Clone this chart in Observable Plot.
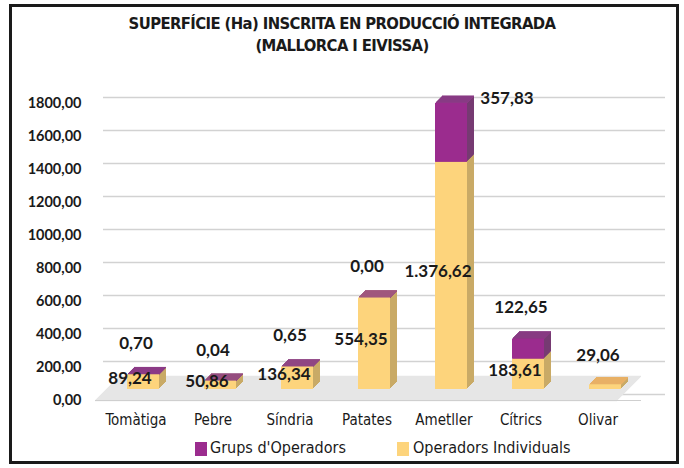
<!DOCTYPE html>
<html>
<head>
<meta charset="utf-8">
<script src="https://cdn.jsdelivr.net/npm/d3@7"></script>
<script src="https://cdn.jsdelivr.net/npm/@observablehq/plot@0.6"></script>
<style>
  html, body { margin: 0; padding: 0; background: #fff; }
  #wrap { position: relative; width: 684px; height: 468px; overflow: hidden; font-family: "Lato", "Open Sans", sans-serif; }
  #frame { position: absolute; left: 9px; top: 4px; width: 664px; height: 454px; border: 3px solid #1a1a1a; box-sizing: content-box; pointer-events: none; }
  #title { position: absolute; left: 0; top: 13px; width: 684px; text-align: center; font-family: "Liberation Sans Narrow", "DejaVu Sans Condensed", sans-serif; font-weight: bold; font-size: 16.5px; line-height: 22px; color: #1a1a1a; letter-spacing: -0.6px; }
  #chart { position: absolute; left: 0; top: 0; }
  #legend { position: absolute; left: 0; top: 438px; width: 684px; font-size: 16px; color: #1a1a1a; font-family: "Liberation Sans Narrow", "DejaVu Sans Condensed", sans-serif; }
  .sw { position: absolute; top: 4px; width: 12px; height: 14px; }
  .lt { position: absolute; top: 0; white-space: nowrap; }
</style>
</head>
<body>
<div id="wrap">
  <div id="chart"></div>
  <div id="title">SUPERFÍCIE (Ha) INSCRITA EN PRODUCCIÓ INTEGRADA<br>(MALLORCA I EIVISSA)</div>
  <div id="legend"></div>
  <div id="frame"></div>
</div>
<script>
const categories = ["Tomàtiga", "Pebre", "Síndria", "Patates", "Ametller", "Cítrics", "Olivar"];
const individuals = [89.24, 50.86, 136.34, 554.35, 1376.62, 183.61, 29.06];
const groups = [0.70, 0.04, 0.65, 0.00, 357.83, 122.65, null];
const seriesNames = ["Grups d'Operadors", "Operadors Individuals"];
const seriesColors = ["#9b2c8e", "#fdd47c"];
const sideColors = ["#763a72", "#c9aa66"];
const topColors = ["#8b3b86", "#e9b066"];
const yTicks = [0, 200, 400, 600, 800, 1000, 1200, 1400, 1600, 1800];

const rows = categories.map((c, i) => ({
  cat: c,
  ind: individuals[i],
  grp: groups[i],
  total: individuals[i] + (groups[i] ?? 0)
}));

const es = d3.formatLocale({decimal: ",", thousands: ".", grouping: [3], currency: ["", "€"]});
const fmtVal = es.format(",.2f");
const fmtTick = d => d.toFixed(2).replace(".", ",");

const yellowRects = rows.map(r => ({cat: r.cat, y1: 0, y2: r.ind, top: r.ind}));
const purpleRects = rows.filter(r => r.grp != null).map(r => ({cat: r.cat, y1: r.ind, y2: r.ind + r.grp, top: r.ind + r.grp}));

const barOpts = {insetLeft: 30, insetRight: 15};
const base = -11;   // bars stand back on the floor
const depth = 7;    // 3D extrusion depth in px
const labelFont = {fontSize: 17, fontWeight: "bold", fill: "#1a1a1a", fontFamily: "Lato, 'Open Sans', sans-serif"};

// floor (steps forming a parallelogram)
const floorMarks = d3.range(0, 25).map(k =>
  Plot.ruleY([0], {stroke: "#e6e6e6", strokeWidth: 1.6, dx: k, dy: -k, insetRight: 24})
);

// 3D extrusion: side + top faces
const extrude = [];
for (let k = depth; k >= 1; k--) {
  extrude.push(Plot.rectY(yellowRects, {x: "cat", y1: "y1", y2: "y2", fill: sideColors[1], dx: k, dy: base - k, ...barOpts}));
  extrude.push(Plot.tickY(yellowRects.filter((d, i) => !(groups[i] > 0)), {x: "cat", y: "top", stroke: topColors[1], strokeWidth: 1.5, dx: k, dy: base - k, ...barOpts}));
  extrude.push(Plot.rectY(purpleRects, {x: "cat", y1: "y1", y2: "y2", fill: sideColors[0], dx: k, dy: base - k, ...barOpts}));
  extrude.push(Plot.tickY(purpleRects, {x: "cat", y: "top", stroke: topColors[0], strokeWidth: 1.5, dx: k, dy: base - k, ...barOpts}));
}

const plot = Plot.plot({
  width: 684,
  height: 468,
  marginLeft: 95,
  marginRight: 43,
  marginTop: 103,
  marginBottom: 68,
  style: {background: "transparent", fontFamily: "Lato, 'Open Sans', sans-serif", color: "#1a1a1a"},
  x: {type: "band", domain: categories, range: [95, 638], padding: 0, label: null},
  y: {domain: [0, 1800], ticks: yTicks, label: null},
  marks: [
    Plot.ruleY(yTicks, {stroke: "#d2d2d2", strokeWidth: 1.3, dy: -6, insetLeft: 8, insetRight: -24}),
    ...floorMarks,
    Plot.ruleY([0], {stroke: "#cfcfcf", strokeWidth: 1}),
    Plot.axisY({ticks: yTicks, tickFormat: fmtTick, tickSize: 0, tickPadding: 14, fontSize: 14.5, fontWeight: "bold", label: null}),
    Plot.axisX({tickSize: 0, tickPadding: 14, fontSize: 15, fontFamily: "'Liberation Sans Narrow', 'DejaVu Sans Condensed', sans-serif", label: null}),
    ...extrude,
    // front faces
    Plot.rectY(yellowRects, {x: "cat", y1: "y1", y2: "y2", fill: seriesColors[1], dy: base, ...barOpts}),
    Plot.rectY(purpleRects.filter(d => d.y2 > d.y1), {x: "cat", y1: "y1", y2: "y2", fill: seriesColors[0], dy: base, ...barOpts}),
    // value labels: individuals
    Plot.text(rows.filter(r => r.grp != null), {x: "cat", y: d => d.ind / 2, text: d => fmtVal(d.ind), dy: -15, dx: -6, ...labelFont}),
    Plot.text(rows.filter(r => r.grp == null), {x: "cat", y: "total", text: d => fmtVal(d.ind), dy: -40, ...labelFont}),
    // value labels: groups
    Plot.text(rows.filter(r => r.grp != null && r.total < 1500), {x: "cat", y: "total", text: d => fmtVal(d.grp), dy: -42, ...labelFont}),
    Plot.text(rows.filter(r => r.grp != null && r.total >= 1500), {x: "cat", y: "total", text: d => fmtVal(d.grp), dx: 63, dy: -16, ...labelFont})
  ]
});
document.getElementById("chart").appendChild(plot);

const legend = document.getElementById("legend");
const legendPos = [[195, 210], [397, 413]];
seriesNames.forEach((name, i) => {
  const sw = document.createElement("div");
  sw.className = "sw";
  sw.style.left = legendPos[i][0] + "px";
  sw.style.background = seriesColors[i];
  legend.appendChild(sw);
  const t = document.createElement("div");
  t.className = "lt";
  t.style.left = legendPos[i][1] + "px";
  t.textContent = name;
  legend.appendChild(t);
});
</script>
</body>
</html>
